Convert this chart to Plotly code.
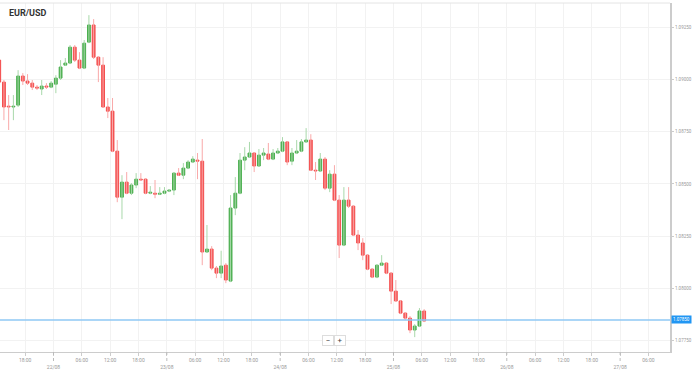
import plotly.graph_objects as go
import pandas as pd

title_text = "EUR/USD"
start_time = "2023-08-21 12:30"
current_price = 1.07850

opens = [1.09092, 1.08987, 1.08872, 1.08868, 1.08877, 1.09016, 1.08992, 1.08982, 1.08963, 1.08954,
         1.08968, 1.08963, 1.08977, 1.09006, 1.09068, 1.09078, 1.09154, 1.09092, 1.09054, 1.09178,
         1.09260, 1.09106, 1.09068, 1.08868, 1.08848, 1.08657, 1.08437, 1.08509, 1.08456, 1.08495,
         1.08523, 1.08523, 1.08456, 1.08456, 1.08451, 1.08456, 1.08466, 1.08471, 1.08552, 1.08542,
         1.08576, 1.08605, 1.08614, 1.08609, 1.08175, 1.08189, 1.08098, 1.08074, 1.08112, 1.08036,
         1.08385, 1.08456, 1.08614, 1.08629, 1.08648, 1.08586, 1.08638, 1.08643, 1.08619, 1.08648,
         1.08657, 1.08701, 1.08609, 1.08648, 1.08657, 1.08701, 1.08710, 1.08566, 1.08562, 1.08619,
         1.08480, 1.08547, 1.08423, 1.08208, 1.08423, 1.08394, 1.08256, 1.08218, 1.08160, 1.08093,
         1.08055, 1.08112, 1.08122, 1.08074, 1.07988, 1.07941, 1.07883, 1.07859, 1.07802, 1.07821,
         1.07893]
highs = [1.09102, 1.08997, 1.08925, 1.08925, 1.09044, 1.09030, 1.09025, 1.08997, 1.08973, 1.08997,
         1.08982, 1.08992, 1.09020, 1.09092, 1.09102, 1.09164, 1.09164, 1.09130, 1.09188, 1.09307,
         1.09288, 1.09111, 1.09106, 1.08911, 1.08911, 1.08710, 1.08542, 1.08557, 1.08504, 1.08552,
         1.08552, 1.08528, 1.08490, 1.08519, 1.08485, 1.08485, 1.08475, 1.08557, 1.08576, 1.08600,
         1.08614, 1.08633, 1.08648, 1.08715, 1.08304, 1.08203, 1.08108, 1.08181, 1.08122, 1.08447,
         1.08533, 1.08648, 1.08676, 1.08701, 1.08652, 1.08667, 1.08672, 1.08696, 1.08667, 1.08672,
         1.08724, 1.08705, 1.08672, 1.08710, 1.08715, 1.08767, 1.08738, 1.08605, 1.08648, 1.08629,
         1.08566, 1.08590, 1.08447, 1.08485, 1.08485, 1.08399, 1.08280, 1.08241, 1.08165, 1.08098,
         1.08117, 1.08160, 1.08127, 1.08079, 1.08041, 1.07945, 1.07888, 1.07869, 1.07830, 1.07907,
         1.07902]
lows = [1.08977, 1.08805, 1.08758, 1.08805, 1.08868, 1.08973, 1.08973, 1.08949, 1.08949, 1.08925,
        1.08954, 1.08958, 1.08934, 1.08997, 1.09064, 1.09073, 1.09083, 1.09049, 1.09049, 1.09173,
        1.09097, 1.08987, 1.08863, 1.08815, 1.08652, 1.08413, 1.08332, 1.08451, 1.08447, 1.08480,
        1.08514, 1.08451, 1.08451, 1.08432, 1.08447, 1.08451, 1.08461, 1.08447, 1.08538, 1.08523,
        1.08571, 1.08600, 1.08523, 1.08112, 1.08170, 1.08088, 1.08050, 1.08050, 1.08026, 1.08031,
        1.08351, 1.08451, 1.08566, 1.08624, 1.08557, 1.08581, 1.08614, 1.08614, 1.08614, 1.08643,
        1.08652, 1.08590, 1.08590, 1.08643, 1.08652, 1.08696, 1.08562, 1.08519, 1.08557, 1.08471,
        1.08461, 1.08418, 1.08146, 1.08203, 1.08385, 1.08251, 1.08184, 1.08136, 1.08088, 1.08050,
        1.08050, 1.08108, 1.08069, 1.07926, 1.07936, 1.07878, 1.07849, 1.07787, 1.07768, 1.07816,
        1.07840]
closes = [1.08987, 1.08868, 1.08868, 1.08872, 1.09016, 1.08992, 1.08982, 1.08963, 1.08958, 1.08968,
          1.08963, 1.08982, 1.09006, 1.09059, 1.09078, 1.09154, 1.09092, 1.09054, 1.09173, 1.09260,
          1.09106, 1.09068, 1.08868, 1.08848, 1.08657, 1.08437, 1.08509, 1.08456, 1.08495, 1.08523,
          1.08519, 1.08456, 1.08461, 1.08451, 1.08456, 1.08466, 1.08471, 1.08552, 1.08542, 1.08576,
          1.08605, 1.08619, 1.08609, 1.08175, 1.08189, 1.08098, 1.08074, 1.08108, 1.08041, 1.08385,
          1.08456, 1.08614, 1.08629, 1.08648, 1.08586, 1.08638, 1.08648, 1.08619, 1.08648, 1.08657,
          1.08701, 1.08605, 1.08648, 1.08657, 1.08701, 1.08710, 1.08566, 1.08562, 1.08619, 1.08480,
          1.08547, 1.08423, 1.08208, 1.08423, 1.08394, 1.08256, 1.08218, 1.08160, 1.08093, 1.08055,
          1.08112, 1.08122, 1.08074, 1.07988, 1.07941, 1.07883, 1.07859, 1.07802, 1.07821, 1.07893,
          1.07845]

y_ticks = [1.07750, 1.08000, 1.08250, 1.08500, 1.08750, 1.09000, 1.09250]
y_tick_labels = ["1.07750", "1.08000", "1.08250", "1.08500", "1.08750", "1.09000", "1.09250"]

x_ticks = ["2023-08-21 18:00", "2023-08-22 00:00", "2023-08-22 06:00", "2023-08-22 12:00",
           "2023-08-22 18:00", "2023-08-23 00:00", "2023-08-23 06:00", "2023-08-23 12:00",
           "2023-08-23 18:00", "2023-08-24 00:00", "2023-08-24 06:00", "2023-08-24 12:00",
           "2023-08-24 18:00", "2023-08-25 00:00", "2023-08-25 06:00", "2023-08-25 12:00",
           "2023-08-25 18:00", "2023-08-26 00:00", "2023-08-26 06:00", "2023-08-26 12:00",
           "2023-08-26 18:00", "2023-08-27 00:00", "2023-08-27 06:00"]
x_tick_labels = ["18:00", " <br>22/08", "06:00", "12:00", "18:00", " <br>23/08", "06:00", "12:00",
                 "18:00", " <br>24/08", "06:00", "12:00", "18:00", " <br>25/08", "06:00", "12:00",
                 "18:00", " <br>26/08", "06:00", "12:00", "18:00", " <br>27/08", "06:00"]

UP_BODY = "#4caf50"
DOWN_BODY = "#f44f4f"
UP_WICK = "#a8d8aa"
DOWN_WICK = "#f9a9a9"

times = pd.date_range(start_time, periods=len(opens), freq="h")

fig = go.Figure()

# wicks
for up, col in [(True, UP_WICK), (False, DOWN_WICK)]:
    wx, wy = [], []
    for t, o, h, l, c in zip(times, opens, highs, lows, closes):
        if (c >= o) == up:
            wx += [t, t, None]
            wy += [l, h, None]
    fig.add_trace(go.Scatter(x=wx, y=wy, mode="lines", line=dict(color=col, width=1),
                             hoverinfo="skip", showlegend=False))

# bodies
base = [min(o, c) for o, c in zip(opens, closes)]
height = [abs(c - o) for o, c in zip(opens, closes)]
cols = [UP_BODY if c >= o else DOWN_BODY for o, c in zip(opens, closes)]
fig.add_trace(go.Bar(x=times, y=height, base=base, width=0.6 * 3600000,
                     marker=dict(color=cols, line=dict(color=cols, width=1)),
                     showlegend=False))

# current price line
fig.add_shape(type="line", xref="paper", x0=0, x1=1, yref="y", y0=current_price, y1=current_price,
              line=dict(color="#8fc9f5", width=1.5), layer="above")

# dashed ticks at day boundaries
for tv, tl in zip(x_ticks, x_tick_labels):
    if tl.startswith(" <br>"):
        fig.add_shape(type="line", xref="x", x0=tv, x1=tv, yref="paper", y0=0, y1=-0.03,
                      line=dict(color="#bbbbbb", width=1, dash="dot"))

# top frame line
fig.add_shape(type="line", xref="paper", x0=0, x1=1, yref="paper", y0=1, y1=1,
              line=dict(color="#e4e4e4", width=1))

fig.add_annotation(text="<b>" + title_text + "</b>", xref="paper", yref="paper",
                   x=7 / 670, y=0.971, xanchor="left", yanchor="middle", showarrow=False,
                   font=dict(family="Roboto", size=9, color="#333333"))

fig.add_annotation(text=f"{current_price:.5f}", xref="paper", yref="y", x=1.0, y=current_price,
                   xanchor="left", yanchor="middle", showarrow=False, xshift=1,
                   bgcolor="#2196f3", borderpad=1,
                   font=dict(family="Roboto", size=4.5, color="#ffffff"))

for sym, px in [("\u2212", 328), ("+", 340)]:
    fig.add_annotation(text=sym, xref="paper", yref="paper", x=px / 670, y=(352 - 340) / 349,
                       xanchor="center", yanchor="middle", showarrow=False,
                       bgcolor="#ffffff", bordercolor="#dddddd", borderwidth=1,
                       width=8, height=7, font=dict(family="Roboto", size=8, color="#444444"))

fig.update_layout(
    width=698, height=371,
    margin=dict(l=0, r=28, t=3, b=19),
    plot_bgcolor="#ffffff", paper_bgcolor="#ffffff",
    showlegend=False,
    xaxis=dict(type="date", range=["2023-08-21 12:40", "2023-08-27 10:34"],
               tickmode="array", tickvals=x_ticks, ticktext=x_tick_labels,
               showgrid=True, gridcolor="#f2f2f2", gridwidth=1,
               showline=True, linecolor="#cccccc", linewidth=1,
               ticks="outside", ticklen=3, tickcolor="#cccccc",
               tickfont=dict(family="Roboto", size=5, color="#999999"),
               zeroline=False, fixedrange=True),
    yaxis=dict(side="right", range=[1.07697, 1.09365],
               tickmode="array", tickvals=y_ticks, ticktext=y_tick_labels,
               showgrid=True, gridcolor="#f2f2f2", gridwidth=1,
               showline=True, linecolor="#cccccc", linewidth=2,
               ticks="outside", ticklen=2, tickcolor="#cccccc",
               tickfont=dict(family="Roboto", size=4.5, color="#999999"),
               zeroline=False),
)

fig.write_html("out.html", config={"displayModeBar": False},
               post_script="document.body.style.margin='0';document.body.style.overflow='hidden';")
